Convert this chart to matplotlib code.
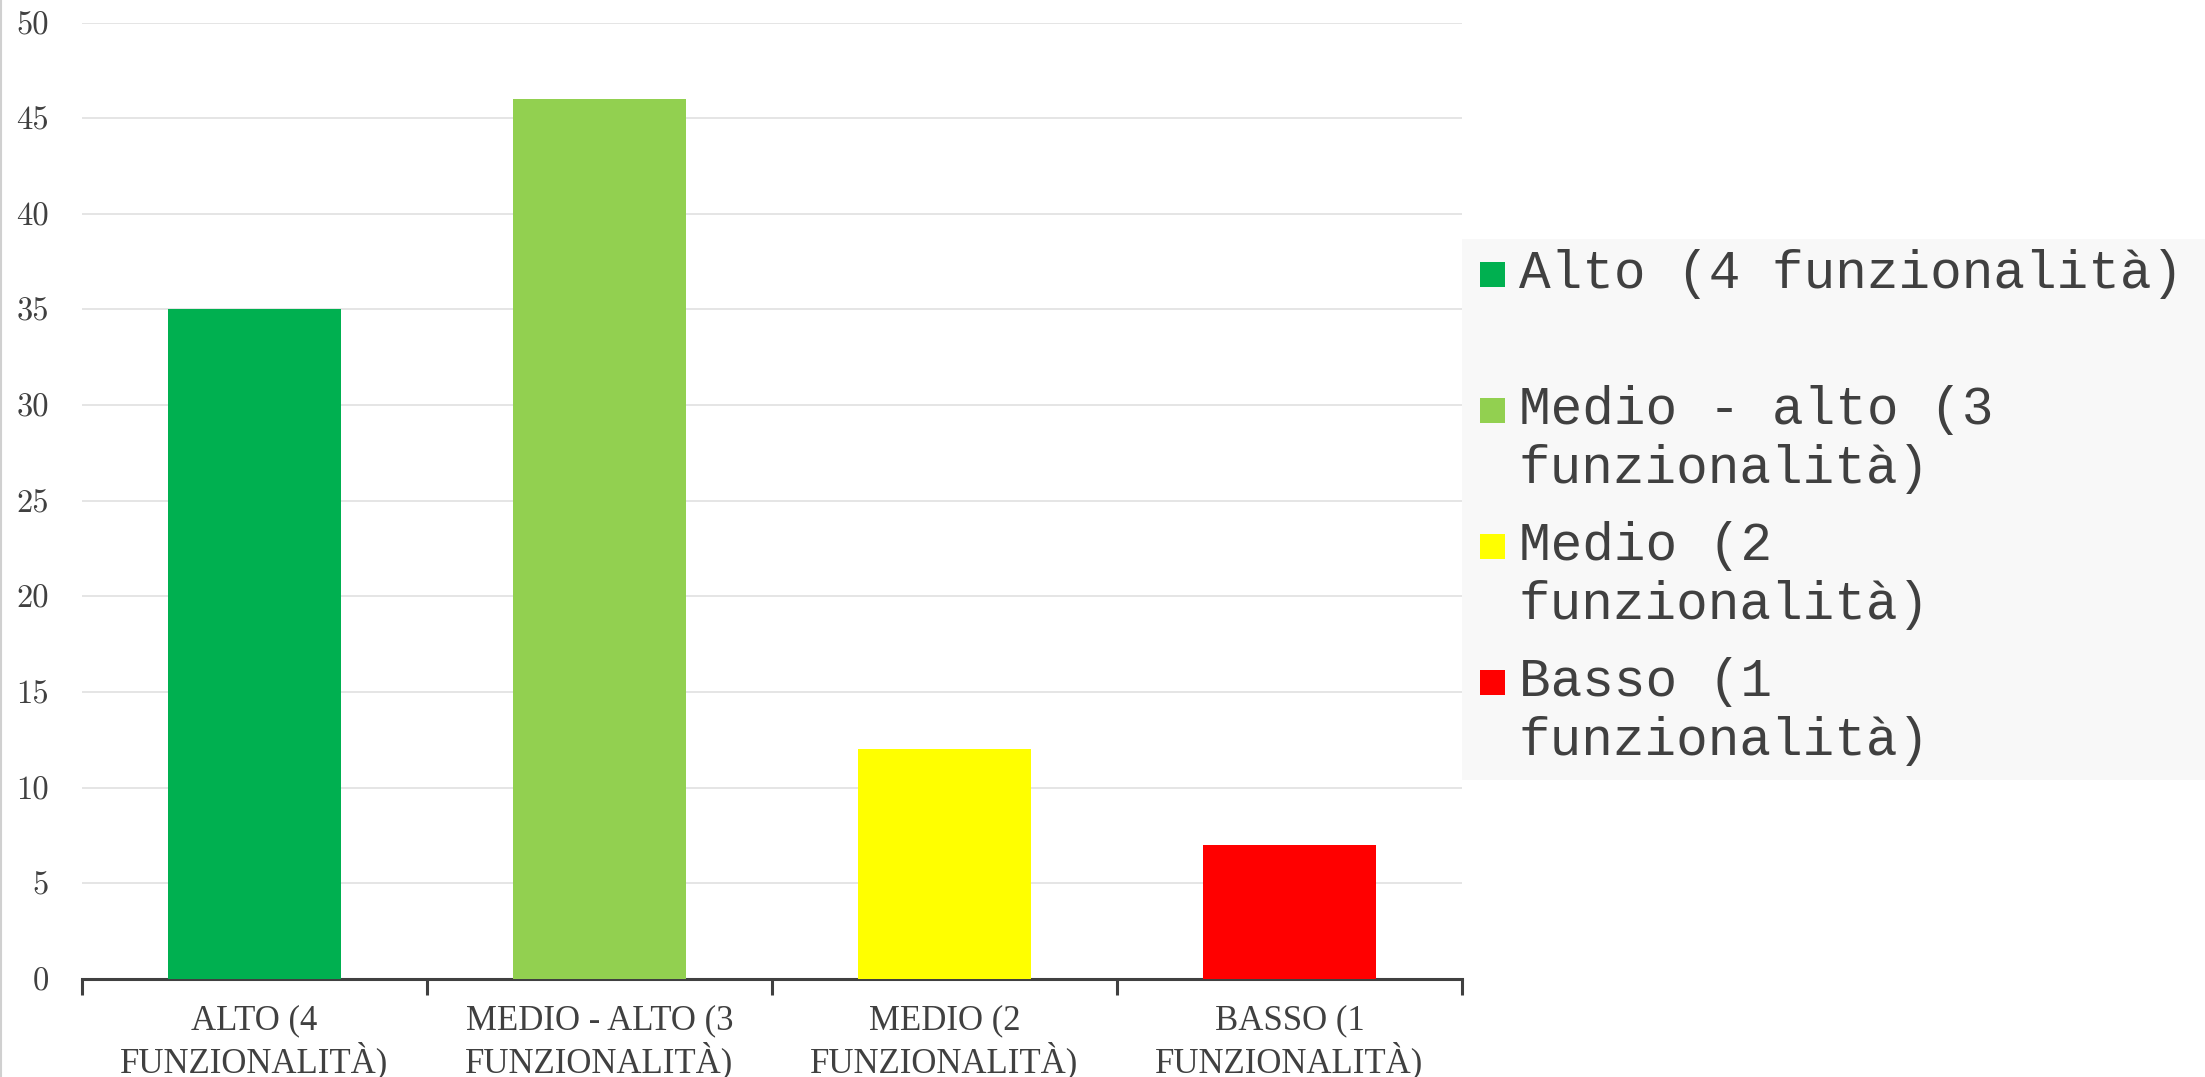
import matplotlib
matplotlib.use('Agg')
import matplotlib.pyplot as plt
from matplotlib.patches import Rectangle
from matplotlib.lines import Line2D

# data
categories = ['ALTO (4\nFUNZIONALITÀ)', 'MEDIO - ALTO (3\nFUNZIONALITÀ)',
              'MEDIO (2\nFUNZIONALITÀ)', 'BASSO (1\nFUNZIONALITÀ)']
values = [35, 46, 12, 7]
legend_lines = [['Alto (4 funzionalità)'],
                ['Medio - alto (3', 'funzionalità)'],
                ['Medio (2', 'funzionalità)'],
                ['Basso (1', 'funzionalità)']]
colors = ['#00B050', '#92D050', '#FFFF00', '#FF0000']
yticks = list(range(0, 51, 5))

TXT = '#404040'
W, H = 2205, 1077

def fx(px):
    return px / W

def fy(py):
    return 1 - py / H

fig = plt.figure(figsize=(W / 100, H / 100), dpi=100)
ax = fig.add_axes([fx(82), fy(979), fx(1462) - fx(82), fy(22.5) - fy(979)])

x = list(range(len(values)))
ax.bar(x, values, width=0.5, color=colors, zorder=3)

ax.set_xlim(-0.5, len(values) - 0.5)
ax.set_ylim(0, 50)
ax.set_yticks(yticks)
ax.set_yticklabels([str(v) for v in yticks], fontfamily='cmr10', fontsize=23.5, color=TXT)
ax.tick_params(axis='y', length=0, pad=23.8)
ax.yaxis.grid(True, color='#e0e0e0', linewidth=1.2, zorder=0)
ax.set_axisbelow(True)

ax.set_xticks(x)
ax.set_xticklabels(categories, fontfamily='Liberation Serif', fontsize=25, color=TXT,
                   linespacing=1.15)
ax.tick_params(axis='x', which='major', length=0, pad=18)
ax.set_xticks([i - 0.5 for i in range(len(values) + 1)], minor=True)
ax.tick_params(axis='x', which='minor', length=11.5, width=2.2, color=TXT, direction='out')

for s in ['top', 'right', 'left']:
    ax.spines[s].set_visible(False)
ax.spines['bottom'].set_color(TXT)
ax.spines['bottom'].set_linewidth(2.2)

# legend box drawn by hand, to keep the marker on the first text line
fig.patches.append(Rectangle((fx(1462), fy(780)), fx(2205) - fx(1462), fy(239) - fy(780),
                             transform=fig.transFigure, facecolor='#f8f8f8',
                             edgecolor='none', zorder=0))
y0 = 274
for i, (lines, c) in enumerate(zip(legend_lines, colors)):
    yy = y0 + 136 * i
    fig.patches.append(Rectangle((fx(1480), fy(yy + 12.5)), fx(25), 25 / H,
                                 transform=fig.transFigure, facecolor=c,
                                 edgecolor='none', zorder=2))
    for j, line in enumerate(lines):
        fig.text(fx(1519), fy(yy + 59 * j), line, fontfamily='Liberation Mono',
                 fontsize=38, color=TXT, va='center', ha='left')

# thin border on the left edge
fig.add_artist(Line2D([0.0005, 0.0005], [0, 1], transform=fig.transFigure,
                      color='#d0d0d0', linewidth=1.5))

plt.savefig('out.png', dpi=100)
